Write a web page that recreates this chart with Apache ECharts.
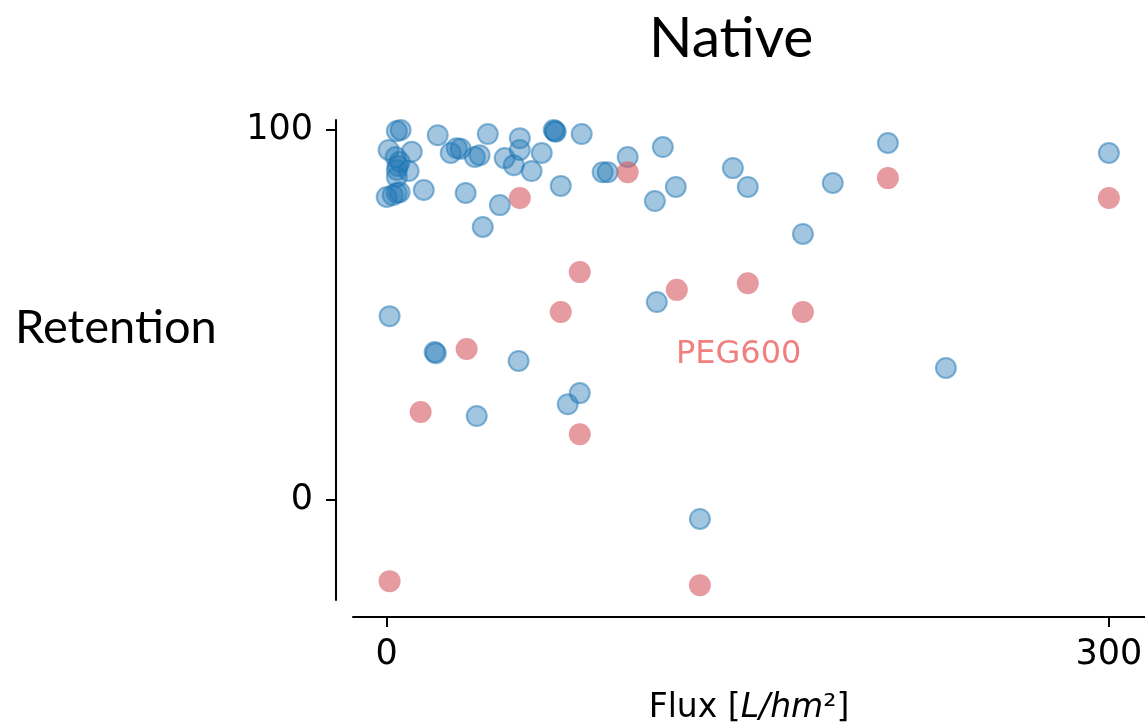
<!DOCTYPE html>
<html>
<head>
<meta charset="utf-8">
<script src="https://cdn.jsdelivr.net/npm/echarts@6/dist/echarts.min.js"></script>
<style>
  html, body { margin: 0; padding: 0; background: #fff; }
  #chart { width: 1145px; height: 724px; }
</style>
</head>
<body>
<div id="chart"></div>
<script>
// Native membranes: flux vs. retention
const nativeFlux = [
  4.2, 5.8, 21.2, 42.0, 55.3, 55.3, 69.8, 70.2, 69.4, 81.0,
  0.8, 10.4, 3.7, 5.4, 4.6, 9.1, 4.2, 4.2, 26.6, 29.1,
  30.7, 36.6, 38.6, 49.0, 52.8, 64.4, 60.2, 15.4, 0.0, 2.5,
  4.2, 5.4, 32.8, 72.3, 47.0, 39.9, 89.7, 91.8, 100.1, 114.7,
  120.1, 111.4, 143.8, 150.0, 185.3, 172.9, 208.2, 300.0, 1.2, 19.9,
  20.4, 54.8, 80.2, 75.2, 37.4, 112.2, 232.3, 130.1
];
const nativeRetention = [
  99.7, 100.0, 98.6, 98.9, 97.8, 94.6, 99.7, 99.5, 100.0, 98.9,
  94.6, 94.1, 92.7, 91.4, 90.3, 88.9, 89.2, 87.3, 93.8, 95.1,
  94.9, 92.7, 93.2, 92.4, 90.5, 93.8, 88.9, 83.8, 81.9, 82.4,
  83.0, 83.2, 83.0, 84.9, 79.7, 73.8, 88.6, 88.6, 92.7, 95.4,
  84.6, 80.8, 89.7, 84.6, 85.7, 71.9, 96.5, 93.8, 49.7, 40.0,
  39.7, 37.6, 28.9, 25.9, 22.7, 53.5, 35.7, -5.1
];

// PEG600 subset
const pegFlux = [55.3, 100.1, 208.2, 300.0, 80.2, 72.3, 33.2, 14.1, 80.2, 120.5, 150.0, 172.9, 1.2, 130.1];
const pegRetention = [81.6, 88.6, 87.0, 81.6, 61.6, 50.8, 40.8, 23.8, 17.8, 56.8, 58.6, 50.8, -21.9, -23.0];

const xTicks = [0, 300];
const yTicks = [0, 100];

const zip = (xs, ys) => xs.map((x, i) => [x, ys[i]]);

const chart = echarts.init(document.getElementById('chart'), null, { renderer: 'canvas' });

const tickFont = { fontFamily: 'DejaVu Sans', fontSize: 35, color: '#000' };
const axisLine = { show: true, onZero: false, lineStyle: { color: '#000', width: 2 } };
const tickStyle = { color: '#000', width: 2 };

chart.setOption({
  animation: false,
  backgroundColor: '#fff',
  title: {
    text: 'Native',
    left: 644,
    top: 5,
    textStyle: { fontFamily: 'Lato', fontWeight: 'normal', fontSize: 57, color: '#000' }
  },
  grid: { left: 353, right: 0, top: 120, bottom: 124, containLabel: false, outerBoundsMode: 'none' },
  xAxis: {
    type: 'value',
    min: -14,
    max: 315,
    offset: 17,
    axisLine: axisLine,
    axisTick: { show: true, length: 10, lineStyle: tickStyle, customValues: xTicks },
    axisLabel: Object.assign({ margin: 20, customValues: xTicks }, tickFont),
    splitLine: { show: false },
    name: '{n|Flux [}{i|L/hm}{n|²]}',
    nameLocation: 'middle',
    nameGap: 75,
    nameTextStyle: {
      rich: {
        n: { fontFamily: 'DejaVu Sans', fontSize: 33, color: '#000' },
        i: { fontFamily: 'DejaVu Sans', fontStyle: 'italic', fontSize: 33, color: '#000' }
      }
    }
  },
  yAxis: {
    type: 'value',
    min: -27,
    max: 102.7,
    offset: 17,
    axisLine: axisLine,
    axisTick: { show: true, length: 10, lineStyle: tickStyle, customValues: yTicks },
    axisLabel: Object.assign({ margin: 23, customValues: yTicks }, tickFont),
    splitLine: { show: false }
  },
  graphic: [
    {
      type: 'text',
      left: 15,
      top: 304,
      style: { text: 'Retention', fontFamily: 'Lato', fontSize: 47, fill: '#000' }
    },
    {
      type: 'text',
      left: 676,
      top: 339,
      style: { text: 'PEG600', fontFamily: 'DejaVu Sans', fontSize: 32, fill: '#f08080' }
    }
  ],
  series: [
    {
      name: 'Native',
      type: 'scatter',
      data: zip(nativeFlux, nativeRetention),
      symbol: 'circle',
      symbolSize: 20,
      itemStyle: {
        color: 'rgba(31,119,180,0.52)',
        borderColor: 'rgba(31,119,180,0.65)',
        borderWidth: 2
      },
      emphasis: { disabled: true }
    },
    {
      name: 'PEG600',
      type: 'scatter',
      data: zip(pegFlux, pegRetention),
      symbol: 'circle',
      symbolSize: 22,
      itemStyle: { color: 'rgba(214,88,96,0.75)' },
      emphasis: { disabled: true }
    }
  ]
});
</script>
</body>
</html>
